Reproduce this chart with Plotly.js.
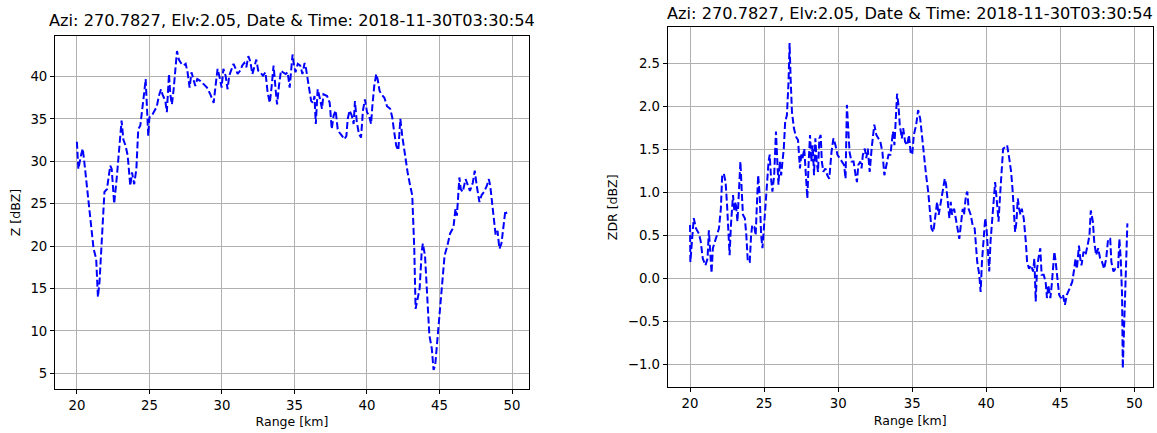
<!DOCTYPE html>
<html>
<head>
<meta charset="utf-8">
<script src="https://cdn.plot.ly/plotly-3.0.1.min.js"></script>
<style>html,body{margin:0;padding:0;background:#fff;}#chart{width:1157px;height:433px;}</style>
</head>
<body>
<div id="chart"></div>
<script>
const titleText = "Azi: 270.7827, Elv:2.05, Date & Time: 2018-11-30T03:30:54";
const xLabel = "Range [km]";
const zLabel = "Z [dBZ]";
const zdrLabel = "ZDR [dBZ]";

const zRange = [20.0,20.1,20.28,20.4,20.5,21.15,21.33,21.45,21.56,21.9,22.07,22.2,22.3,22.4,22.57,22.76,22.94,23.08,23.2,23.36,23.5,23.68,23.8,23.95,24.1,24.23,24.37,24.5,24.64,24.74,24.83,24.92,25.0,25.17,25.36,25.5,25.65,25.8,25.9,26.1,26.2,26.35,26.44,26.55,26.67,26.78,26.9,27.03,27.17,27.36,27.5,27.63,27.77,27.9,28.05,28.16,28.3,28.5,28.74,28.97,29.2,29.3,29.43,29.56,29.7,29.84,29.98,30.1,30.25,30.39,30.5,30.67,30.8,30.95,31.08,31.26,31.4,31.54,31.68,31.82,31.95,32.1,32.23,32.37,32.5,32.64,32.83,33.0,33.15,33.3,33.43,33.56,33.7,33.8,33.93,34.07,34.2,34.4,34.53,34.67,34.8,34.87,34.95,35.07,35.23,35.4,35.55,35.7,35.8,35.99,36.15,36.28,36.38,36.47,36.6,36.74,36.9,37.0,37.25,37.43,37.57,37.7,37.84,37.98,38.1,38.28,38.44,38.58,38.67,38.8,38.95,39.08,39.17,39.3,39.45,39.59,39.72,39.86,40.0,40.14,40.28,40.37,40.5,40.64,40.73,40.87,41.0,41.2,41.38,41.6,41.74,41.88,42.02,42.16,42.3,42.43,42.64,42.8,42.98,43.12,43.26,43.35,43.49,43.63,43.77,43.85,44.0,44.13,44.3,44.47,44.59,44.7,44.86,45.05,45.23,45.35,45.55,45.73,45.96,46.1,46.2,46.28,46.37,46.47,46.6,46.8,46.93,47.1,47.3,47.43,47.57,47.75,47.9,48.07,48.26,48.4,48.5,48.68,48.87,49.0,49.13,49.27,49.4,49.54,49.63];
const zValues = [32.3,29.1,30.7,31.5,30.1,19.7,18.5,14.0,15.8,26.4,26.7,28.3,29.5,29.1,25.0,28.3,31.8,34.8,32.6,31.8,30.7,27.1,28.7,27.3,29.1,33.8,34.2,35.8,38.1,39.7,36.9,33.0,35.2,35.4,36.0,36.4,37.7,38.5,37.9,37.1,35.8,40.3,37.9,36.7,38.5,40.5,43.0,42.0,41.6,41.3,41.5,40.5,38.7,40.5,39.7,38.9,39.7,39.5,39.1,38.7,37.9,37.5,36.9,38.9,40.9,39.9,38.7,40.9,40.1,38.5,40.1,40.9,41.5,40.9,40.3,40.7,41.3,41.6,41.1,42.4,41.8,40.3,41.3,42.0,40.7,40.5,40.1,40.5,38.1,36.9,38.9,41.3,38.5,36.7,38.9,40.7,40.5,40.3,40.5,38.7,41.3,42.6,41.5,40.5,41.5,41.3,40.3,41.6,40.9,38.9,37.1,36.9,37.7,34.4,38.5,37.5,36.2,37.9,37.7,36.9,33.8,35.4,36.0,33.8,33.4,33.0,32.6,33.0,35.0,36.0,35.4,34.4,37.1,34.6,33.2,32.8,36.0,37.3,35.8,35.4,34.4,36.5,38.9,40.3,39.7,38.3,37.9,37.5,36.5,36.2,35.2,33.4,31.8,31.3,35.0,33.0,30.3,28.7,27.1,26.0,19.7,12.6,13.8,15.0,19.3,20.3,18.9,15.0,9.5,7.9,5.4,5.9,9.1,13.4,17.3,18.9,20.1,21.5,22.2,24.4,23.6,26.4,28.1,26.7,26.4,27.9,27.3,26.5,27.5,28.9,27.1,25.2,26.0,26.4,27.1,27.9,27.1,24.4,21.3,21.8,19.7,20.3,22.4,24.2,23.8];

const zdrRange = [20.0,20.02,20.14,20.25,20.4,20.6,20.72,20.86,21.04,21.18,21.27,21.36,21.45,21.54,21.67,21.8,21.95,22.08,22.17,22.28,22.4,22.5,22.58,22.67,22.76,22.9,22.99,23.08,23.2,23.3,23.4,23.48,23.57,23.7,23.8,23.9,24.03,24.12,24.2,24.34,24.43,24.52,24.6,24.7,24.8,24.89,25.02,25.16,25.3,25.38,25.47,25.56,25.68,25.8,25.88,25.97,26.06,26.15,26.24,26.33,26.42,26.54,26.65,26.72,26.79,26.88,27.01,27.15,27.29,27.42,27.51,27.6,27.71,27.83,27.92,28.0,28.1,28.19,28.28,28.37,28.46,28.55,28.64,28.73,28.82,28.9,29.0,29.14,29.27,29.4,29.55,29.68,29.82,29.95,30.1,30.27,30.4,30.5,30.59,30.68,30.77,30.9,31.04,31.18,31.27,31.36,31.5,31.58,31.67,31.8,31.9,32.0,32.13,32.26,32.35,32.44,32.58,32.72,32.85,32.99,33.12,33.26,33.4,33.53,33.62,33.7,33.8,33.89,33.98,34.07,34.16,34.3,34.39,34.52,34.66,34.78,34.89,35.0,35.11,35.27,35.4,35.54,35.67,35.81,35.94,36.08,36.21,36.3,36.43,36.57,36.68,36.79,36.93,37.06,37.2,37.29,37.42,37.51,37.6,37.69,37.83,37.96,38.1,38.18,38.27,38.41,38.5,38.63,38.72,38.81,38.95,39.08,39.22,39.3,39.39,39.53,39.62,39.71,39.85,39.93,40.02,40.11,40.2,40.29,40.38,40.52,40.6,40.74,40.83,40.92,41.05,41.14,41.28,41.41,41.55,41.68,41.77,41.86,41.95,42.04,42.13,42.22,42.31,42.4,42.53,42.67,42.76,42.89,43.03,43.16,43.25,43.34,43.43,43.52,43.65,43.74,43.88,44.01,44.1,44.19,44.33,44.42,44.51,44.6,44.69,44.78,44.92,45.04,45.18,45.31,45.45,45.63,45.81,45.94,46.03,46.12,46.26,46.35,46.43,46.57,46.7,46.84,46.97,47.06,47.2,47.29,47.42,47.56,47.69,47.82,47.96,48.1,48.23,48.37,48.45,48.59,48.72,48.9,48.99,49.08,49.17,49.22,49.3,49.39,49.48,49.53];
const zdrValues = [0.62,0.19,0.46,0.70,0.58,0.52,0.43,0.23,0.15,0.23,0.56,0.23,0.06,0.35,0.43,0.48,0.58,0.81,1.20,1.22,1.12,0.85,0.58,0.27,0.62,0.97,0.78,0.89,0.66,0.97,1.36,1.05,0.74,0.70,0.50,0.19,0.19,0.50,0.62,0.60,0.50,0.89,1.20,0.97,0.50,0.35,0.74,1.01,1.36,1.44,1.16,1.01,1.20,1.71,1.40,1.09,1.36,1.20,1.36,1.51,1.82,1.90,2.29,2.74,2.33,1.94,1.75,1.65,1.61,1.28,1.44,1.40,1.51,1.20,0.93,1.32,1.67,1.36,1.55,1.20,1.63,1.36,1.24,1.63,1.67,1.36,1.24,1.28,1.20,1.16,1.47,1.63,1.55,1.44,1.40,1.36,1.32,1.16,2.02,1.75,1.47,1.36,1.36,1.20,1.12,1.32,1.36,1.28,1.44,1.51,1.40,1.51,1.24,1.51,1.63,1.79,1.67,1.63,1.59,1.47,1.20,1.32,1.44,1.44,1.63,1.71,1.55,1.90,2.15,2.02,1.79,1.63,1.75,1.59,1.55,1.67,1.47,1.44,1.67,1.79,1.96,1.86,1.63,1.40,1.20,1.01,0.74,0.58,0.54,0.74,0.89,0.74,0.89,1.05,1.16,1.09,0.89,0.70,0.89,0.74,0.81,0.70,0.54,0.46,0.62,0.81,0.74,0.97,1.01,0.81,0.74,0.62,0.58,0.43,0.19,0.04,-0.16,0.19,0.58,0.70,0.58,0.35,0.08,0.43,0.66,0.89,1.12,0.85,0.66,0.93,1.24,1.51,1.53,1.55,1.40,1.24,1.05,0.74,0.54,0.66,0.93,0.81,0.74,0.81,0.70,0.43,0.19,0.11,0.15,0.08,0.23,-0.27,0.11,0.23,0.35,0.04,0.04,-0.04,-0.23,-0.08,-0.23,-0.08,0.11,0.31,0.19,0.04,-0.19,-0.23,-0.19,-0.31,-0.19,-0.12,-0.04,0.11,0.23,0.11,0.38,0.23,0.15,0.31,0.27,0.38,0.50,0.79,0.66,0.43,0.27,0.35,0.23,0.19,0.11,0.23,0.46,0.46,0.19,0.08,0.11,0.11,0.46,0.23,-0.19,-1.05,-0.58,-0.04,0.58,0.64];

const zTicks = [5,10,15,20,25,30,35,40];
const zdrTicks = [-1.0,-0.5,0.0,0.5,1.0,1.5,2.0,2.5];
const xTicks = [20,25,30,35,40,45,50];

const lineStyle = {color:'#0000ff', width:2, dash:'7px,3px'};
const traces = [
  {x:zRange, y:zValues, type:'scatter', mode:'lines', line:lineStyle, xaxis:'x', yaxis:'y', showlegend:false},
  {x:zdrRange, y:zdrValues, type:'scatter', mode:'lines', line:lineStyle, xaxis:'x2', yaxis:'y2', showlegend:false}
];

const W = 1157, H = 433;
const tickFont = {family:'DejaVu Sans', size:13.3, color:'#000'};
const labFont = {family:'DejaVu Sans', size:12.5, color:'#000'};
const titleFont = {family:'DejaVu Sans', size:16.2, color:'#000'};
function axisBase(){
  return {showline:true, linecolor:'#000', linewidth:1, mirror:true,
    showgrid:true, gridcolor:'#b0b0b0', gridwidth:1, zeroline:false,
    ticks:'outside', ticklen:4, tickwidth:1, tickcolor:'#000',
    tickfont:tickFont, tickmode:'array'};
}
const layout = {
  width:W, height:H, margin:{l:0,r:0,t:0,b:0},
  paper_bgcolor:'#fff', plot_bgcolor:'#fff',
  font:{family:'DejaVu Sans', color:'#000'},
  xaxis:Object.assign(axisBase(), {domain:[55/W,529/W], range:[18.49,51.17], tickvals:xTicks, anchor:'y',
    title:{text:xLabel, font:labFont, standoff:5}}),
  yaxis:Object.assign(axisBase(), {domain:[(H-389)/H,(H-36)/H], range:[3.15,44.78], tickvals:zTicks, anchor:'x',
    title:{text:zLabel, font:labFont, standoff:7}}),
  xaxis2:Object.assign(axisBase(), {domain:[667.7/W,1152.7/W], range:[18.49,51.24], tickvals:xTicks, anchor:'y2',
    title:{text:xLabel, font:labFont, standoff:5}}),
  yaxis2:Object.assign(axisBase(), {domain:[(H-387.3)/H,(H-27.3)/H], range:[-1.27,2.924], tickvals:zdrTicks,
    ticktext:zdrTicks.map(v=>v.toFixed(1).replace('-','\u2212')), anchor:'x2',
    title:{text:zdrLabel, font:labFont, standoff:7}}),
  annotations:[
    {text:titleText, xref:'paper', yref:'paper', x:292/W, y:(H-20)/H, xanchor:'center', yanchor:'middle', showarrow:false, font:titleFont},
    {text:titleText, xref:'paper', yref:'paper', x:910/W, y:(H-13)/H, xanchor:'center', yanchor:'middle', showarrow:false, font:titleFont}
  ]
};
Plotly.newPlot('chart', traces, layout, {displayModeBar:false, staticPlot:true});
</script>
</body>
</html>
